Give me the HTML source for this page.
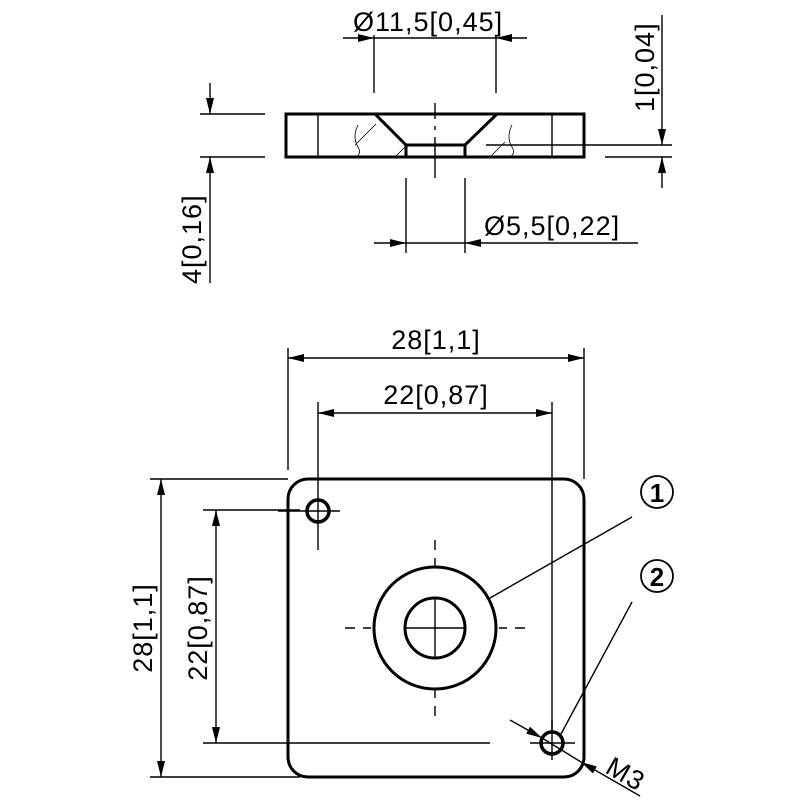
<!DOCTYPE html>
<html><head><meta charset="utf-8"><style>
html,body{margin:0;padding:0;background:#fff;width:800px;height:800px;overflow:hidden}
svg{display:block}
text{font-family:"Liberation Sans","DejaVu Sans",sans-serif;fill:#000}
</style></head><body>
<svg width="800" height="800" viewBox="0 0 800 800" xmlns="http://www.w3.org/2000/svg">
<defs>
<marker id="a" viewBox="0 0 16 8" refX="16" refY="4" markerWidth="16" markerHeight="8" markerUnits="userSpaceOnUse" orient="auto"><path d="M0,0L16,4L0,8z" fill="#000"/></marker>
</defs>
<g stroke="#000" fill="none" stroke-width="1.4">
<!-- SIDE VIEW -->
<rect x="286" y="114" width="298" height="43" stroke-width="3"/>
<path d="M375,114L406,145L465,145L497,114M406,145V157M465,145V157" stroke-width="3"/>
<path d="M318,114V157M552,114V157"/>
<path d="M435,103V119M435,126V130M435,137V178"/>
<path d="M358,125q-6,12 0,22q4,6 -2,10M355,145L376,124M395,157L405,147" stroke-width="0.8"/>
<path d="M512,125q-6,12 0,22q4,6 -2,10M490,157L505,142" stroke-width="0.8"/>
<!-- Ø11,5 -->
<path d="M374,35V93M496,35V93"/>
<path d="M343,38H374" marker-end="url(#a)"/>
<path d="M527,38H496" marker-end="url(#a)"/>
<path d="M374,38H496"/>
<!-- Ø5,5 -->
<path d="M406,178V253M465,178V253"/>
<path d="M374,243H406" marker-end="url(#a)"/>
<path d="M638,243H465" marker-end="url(#a)"/>
<path d="M406,243H465"/>
<!-- 4 -->
<path d="M200,114H265M200,157H265"/>
<path d="M210,83V114" marker-end="url(#a)"/>
<path d="M210,283V157" marker-end="url(#a)"/>
<!-- 1 -->
<path d="M486,145H672M605,157H672"/>
<path d="M662,15V145" marker-end="url(#a)"/>
<path d="M662,188V157" marker-end="url(#a)"/>

<!-- TOP VIEW -->
<rect x="288" y="479" width="296" height="298" rx="20" stroke-width="3"/>
<circle cx="318" cy="511" r="11" stroke-width="3.5"/>
<circle cx="552" cy="743" r="11" stroke-width="3.5"/>
<circle cx="435" cy="628" r="61" stroke-width="3"/>
<circle cx="435" cy="628" r="30" stroke-width="3"/>
<path d="M404,628H466M435,597V659"/>
<path d="M345,628H355M363,628H371M499,628H507M515,628H525" />
<path d="M435,540V550M435,558V566M435,690V698M435,706V716"/>
<path d="M318,470V550M278,511H340"/>
<path d="M530,743H575M552,720V760"/>
<!-- 28 horizontal -->
<path d="M288,348V470M584,348V479"/>
<path d="M436,358H288" marker-end="url(#a)"/>
<path d="M436,358H584" marker-end="url(#a)"/>
<!-- 22 horizontal -->
<path d="M318,402V470M552,402V730"/>
<path d="M435,413H318" marker-end="url(#a)"/>
<path d="M435,413H552" marker-end="url(#a)"/>
<!-- 28 vertical -->
<path d="M150,479H288M150,777H300"/>
<path d="M161,628V479" marker-end="url(#a)"/>
<path d="M161,628V777" marker-end="url(#a)"/>
<!-- 22 vertical -->
<path d="M203,510H300M203,743H490"/>
<path d="M216,626V510" marker-end="url(#a)"/>
<path d="M216,626V743" marker-end="url(#a)"/>
<!-- leaders -->
<path d="M632,517L490,598M632,602L561,734"/>
<circle cx="657" cy="492" r="16" stroke-width="1.8"/>
<circle cx="657" cy="576" r="16" stroke-width="1.8"/>
<path d="M510,720L542,738" marker-end="url(#a)"/>
<path d="M640,796L581,762" marker-end="url(#a)"/>
<path d="M542,738L581,762"/>
</g>
<text x="657" y="502" font-size="26" font-weight="bold" text-anchor="middle">1</text>
<text x="657" y="586" font-size="26" font-weight="bold" text-anchor="middle">2</text>
<g font-size="27" letter-spacing="1">
<text x="353" y="31">Ø11,5[0,45]</text>
<text x="484" y="235">Ø5,5[0,22]</text>
<text transform="translate(201,284) rotate(-90)">4[0,16]</text>
<text transform="translate(654,112) rotate(-90)">1[0,04]</text>
<text x="436" y="349" text-anchor="middle">28[1,1]</text>
<text x="436" y="404" text-anchor="middle">22[0,87]</text>
<text transform="translate(152,628) rotate(-90)" text-anchor="middle">28[1,1]</text>
<text transform="translate(207,628) rotate(-90)" text-anchor="middle">22[0,87]</text>
<text transform="translate(604,772) rotate(30)">M3</text>
</g>
</svg>
</body></html>
